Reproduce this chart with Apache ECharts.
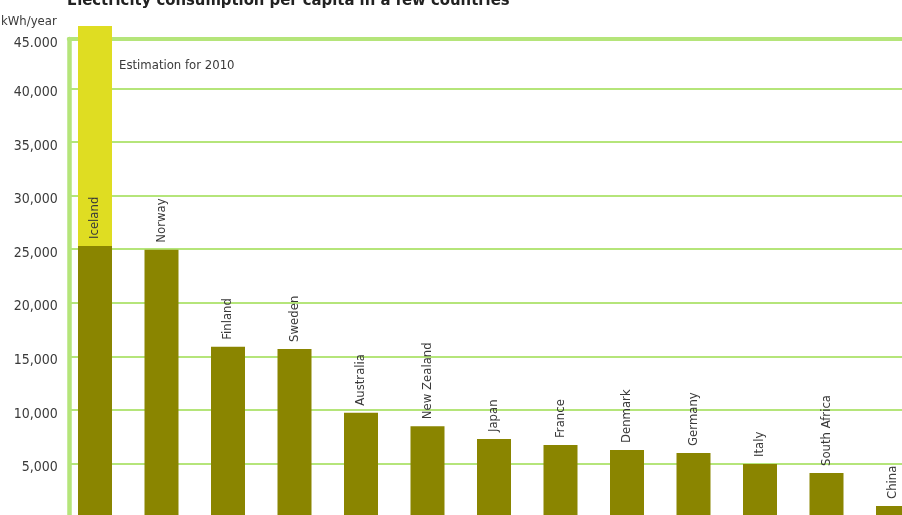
<!DOCTYPE html>
<html>
<head>
<meta charset="utf-8">
<script src="https://cdn.jsdelivr.net/npm/echarts@6/dist/echarts.min.js"></script>
<style>
html,body{margin:0;padding:0;background:#fff;}
#c{width:902px;height:515px;}
</style>
</head>
<body>
<div id="c"></div>
<script>
var countries = ['Iceland','Norway','Finland','Sweden','Australia','New Zealand','Japan','France','Denmark','Germany','Italy','South Africa','China'];
var consumption = [25300, 24950, 15900, 15700, 9750, 8500, 7300, 6750, 6270, 6000, 4970, 4130, 1050];
var estimation2010 = [20500, null, null, null, null, null, null, null, null, null, null, null, null];
var estimationLabel = 'Estimation for 2010';
var yTicks = {0:'0',5000:'5,000',10000:'10,000',15000:'15,000',20000:'20,000',25000:'25,000',30000:'30,000',35000:'35,000',40000:'40,000'};
var topTickLabel = '45.000';

var FONT = '"Liberation Sans Narrow", "DejaVu Sans Condensed", "Liberation Sans", sans-serif';
var GREEN = '#b5e57a';
var DARK = '#8a8500';
var YELLOW = '#dfdd22';
var TXT = '#3a3a3a';

var chart = echarts.init(document.getElementById('c'), null, {renderer:'canvas'});
chart.setOption({
  animation: false,
  backgroundColor: '#fff',
  title: {
    text: 'Electricity consumption per capita in a few countries',
    left: 62, top: -12.5,
    textStyle: {fontFamily: FONT, fontSize: 16.5, fontWeight: 'bold', color: '#222'}
  },
  grid: [
    {left: 61.75, top: 34.7, width: 864.5, height: 482.6, containLabel: false, outerBoundsMode: 'none'},
    {left: 68.75, top: 39, width: 900, height: 478.3, containLabel: false, outerBoundsMode: 'none'}
  ],
  xAxis: [
    {type: 'category', gridIndex: 0, data: countries, show: false},
    {type: 'value', gridIndex: 1, position: 'top', min: 0, max: 1,
     axisLine: {show: true, onZero: false, lineStyle: {color: GREEN, width: 4}},
     axisTick: {show: false}, axisLabel: {show: false}, splitLine: {show: false}}
  ],
  yAxis: [
    {type: 'value', gridIndex: 0, min: 0, max: 45000, interval: 5000, show: false},
    {type: 'value', gridIndex: 1, min: 0, max: 44600, interval: 5000,
     name: 'kWh/year', nameLocation: 'end', nameGap: 17,
     nameTextStyle: {fontFamily: FONT, fontSize: 13, color: TXT, align: 'right', verticalAlign: 'middle', padding: [0, 12, 0, 0]},
     axisLine: {show: true, onZero: false, lineStyle: {color: GREEN, width: 4.5}},
     axisTick: {show: false},
     axisLabel: {show: true, margin: 11, fontFamily: FONT, fontSize: 14, color: TXT, verticalAlign: 'top', lineHeight: 8,
       formatter: function (v) { if (v > 44000) return topTickLabel; return yTicks[v] !== undefined ? yTicks[v] : ''; }},
     splitLine: {show: true, lineStyle: {color: GREEN, width: 2}}
    }
  ],
  series: [
    {
      type: 'bar', xAxisIndex: 0, yAxisIndex: 0, stack: 'total', barWidth: 34, clip: false,
      data: consumption,
      itemStyle: {color: DARK},
      label: {show: true, position: 'top', rotate: 90, distance: 7, align: 'left', verticalAlign: 'middle',
        fontFamily: FONT, fontSize: 13, color: TXT,
        formatter: function (p) { return p.name; }}
    },
    {
      type: 'bar', xAxisIndex: 0, yAxisIndex: 0, stack: 'total', barWidth: 34, clip: false,
      data: estimation2010,
      itemStyle: {color: YELLOW},
      label: {show: true, position: ['100%', 0], offset: [7, 40], align: 'left', verticalAlign: 'middle',
        fontFamily: FONT, fontSize: 13, color: TXT,
        formatter: function () { return estimationLabel; }}
    }
  ]
});
</script>
</body>
</html>
